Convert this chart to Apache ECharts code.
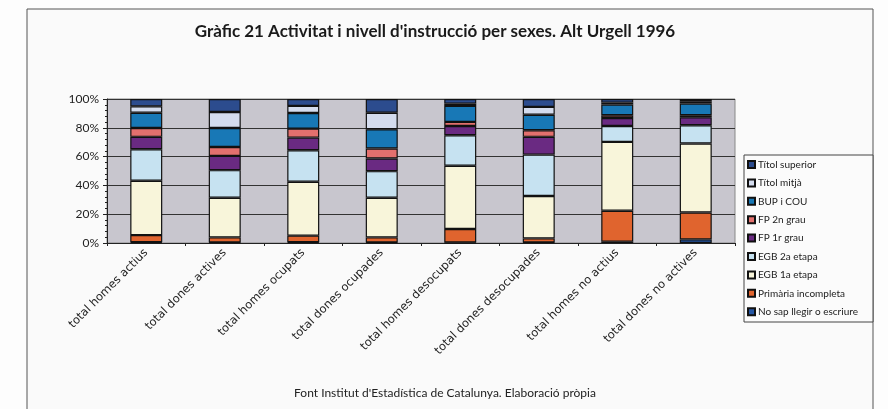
<!DOCTYPE html>
<html>
<head>
<meta charset="utf-8">
<script src="https://cdn.jsdelivr.net/npm/echarts@6/dist/echarts.min.js"></script>
<style>
html,body{margin:0;padding:0;background:#fdfdfd;}
#c{width:888px;height:409px;}
</style>
</head>
<body>
<div id="c"></div>
<script>
const categories = ["total homes actius","total dones actives","total homes ocupats","total dones ocupades","total homes desocupats","total dones desocupades","total homes no actius","total dones no actives"];
const noSap    = [0.5, 0.4, 0.5, 0.4, 0.3, 0.4, 0.9, 2.5];
const primaria = [5.0, 3.5, 4.6, 3.5, 9.4, 2.8, 21.5, 18.7];
const egb1     = [37.7, 27.5, 37.4, 27.5, 43.9, 29.4, 47.8, 47.9];
const egb2     = [21.9, 19.2, 21.9, 18.5, 21.2, 28.8, 11.1, 12.7];
const fp1      = [8.6, 9.9, 8.8, 8.8, 6.5, 12.3, 5.5, 5.5];
const fp2      = [6.2, 6.2, 6.2, 6.9, 2.8, 4.6, 1.9, 1.4];
const bup      = [10.6, 13.2, 10.9, 13.4, 11.1, 10.8, 7.4, 8.1];
const mitja    = [4.4, 11.1, 4.9, 11.5, 1.6, 5.4, 1.4, 1.6];
const superior = [5.1, 9.0, 4.8, 9.5, 3.2, 5.5, 2.5, 1.6];
const seriesNames = ["No sap llegir o escriure","Primària incompleta","EGB 1a etapa","EGB 2a etapa","FP 1r grau","FP 2n grau","BUP i COU","Títol mitjà","Títol superior"];
const seriesData = [noSap, primaria, egb1, egb2, fp1, fp2, bup, mitja, superior];
const colors = ["#2456a4","#e0642e","#f8f5da","#c6e2f1","#6a2a82","#e3706e","#1878b6","#d4dcee","#2c4c8e"];

const chart = echarts.init(document.getElementById('c'));
const font = 'Lato';
chart.setOption({
  animation:false,
  backgroundColor:'#fdfdfd',
  title:{
    text:"Gràfic 21 Activitat i nivell d'instrucció per sexes. Alt Urgell 1996",
    left:430, top:18, textAlign:'center',
    textStyle:{fontFamily:font, fontWeight:'bold', fontSize:17, color:'#1a1a1a'}
  },
  graphic:[
    {type:'rect', shape:{x:27,y:9,width:846,height:420}, style:{fill:'#fafafa', stroke:'#555', lineWidth:1}, z:-10},
    {type:'rect', shape:{x:744,y:155,width:129,height:167}, style:{fill:'#fbfbfb', stroke:'#444', lineWidth:1}, z:-5},
    {type:'text', x:445, y:387, style:{text:"Font Institut d'Estadística de Catalunya. Elaboració pròpia", font:'12px Lato', fill:'#222', textAlign:'center'}}
  ],
  legend:{
    orient:'vertical', left:747, top:159, padding:0,
    data: seriesNames.slice().reverse(),
    icon:'rect', itemWidth:7, itemHeight:7, itemGap:7.4,
    textStyle:{fontFamily:font, fontSize:10, color:'#222', lineHeight:11, padding:[0,0,0,-2]}
  },
  grid:{left:107, right:153, top:99, bottom:166, show:true, backgroundColor:'#c8c6ce', borderColor:'#888', borderWidth:1},
  xAxis:{
    type:'category', data:categories,
    axisLine:{lineStyle:{color:'#222'}},
    axisTick:{show:true, lineStyle:{color:'#222'}, length:3},
    axisLabel:{rotate:45, margin:8, fontFamily:'DejaVu Sans', fontSize:11.5, color:'#222', interval:0}
  },
  yAxis:{
    type:'value', min:0, max:100, interval:20,
    axisLine:{show:true, lineStyle:{color:'#222'}},
    axisTick:{show:true, length:4, lineStyle:{color:'#222'}},
    minorTick:{show:true, splitNumber:5, length:2, lineStyle:{color:'#222'}},
    splitLine:{lineStyle:{color:'#333', width:1}},
    axisLabel:{formatter:'{value}%', fontFamily:font, fontSize:12, color:'#222', margin:8}
  },
  series: seriesNames.map((n,i)=>({
    name:n, type:'bar', stack:'t', barWidth:32,
    data: seriesData[i],
    itemStyle:{color:colors[i], borderColor:'#111', borderWidth:1.2}
  }))
});
</script>
</body>
</html>
